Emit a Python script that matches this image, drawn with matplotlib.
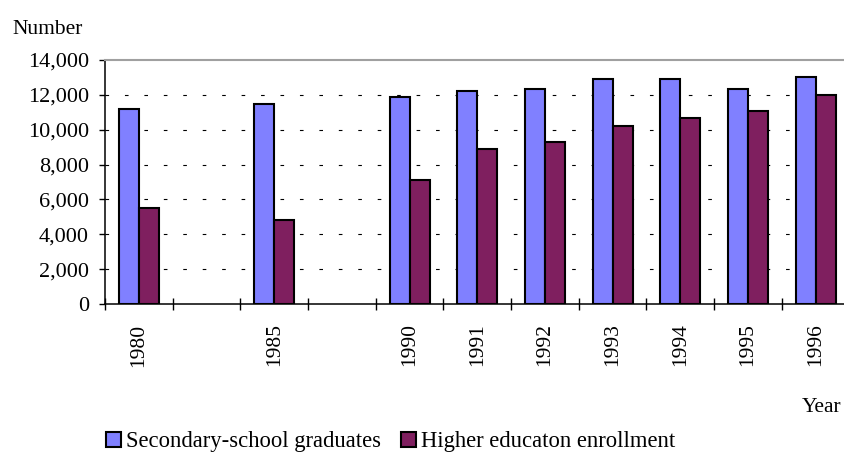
import numpy as np
import matplotlib
matplotlib.use("Agg")
import matplotlib.pyplot as plt
from matplotlib.ticker import FuncFormatter, FixedLocator
from matplotlib.patches import Patch

plt.rcParams['font.family'] = ['Liberation Serif', 'DejaVu Serif']
plt.rcParams['lines.scale_dashes'] = False

# Category slots (blank slots keep the gaps between 1980, 1985 and 1990)
years = ['1980', '', '1985', '', '1990', '1991', '1992', '1993', '1994', '1995', '1996']
secondary_graduates = [11200, np.nan, 11450, np.nan, 11900, 12200, 12350, 12900, 12900, 12350, 13050]
higher_enrollment = [5500, np.nan, 4800, np.nan, 7100, 8900, 9300, 10200, 10700, 11100, 12000]

series_names = ['Secondary-school graduates', 'Higher educaton enrollment']
series_colors = ['#8080FF', '#7F1F5F']

fig = plt.figure(figsize=(8.44, 4.54), dpi=100)
ax = fig.add_axes([105 / 844, 150 / 454, 744.5 / 844, 244 / 454])

x = np.arange(len(years))
bw = 0.295
for offset, vals, color in [(-bw / 2, secondary_graduates, series_colors[0]),
                            (bw / 2, higher_enrollment, series_colors[1])]:
    vals = np.asarray(vals, dtype=float)
    keep = ~np.isnan(vals)
    ax.bar(x[keep] + offset, vals[keep], width=bw, color=color,
           edgecolor='black', linewidth=1.5, zorder=3)

ax.set_xlim(-0.5, len(years) - 0.5)
ax.set_ylim(0, 14000)

# dashed horizontal gridlines
for yv in range(2000, 14000, 2000):
    ax.axhline(yv, color='black', linewidth=0.8, dashes=(2.6, 11.4), zorder=1)

ax.yaxis.set_major_locator(FixedLocator(list(range(0, 14001, 2000))))
ax.yaxis.set_major_formatter(FuncFormatter(lambda v, p: f'{int(v):,}'))
ax.tick_params(axis='y', direction='out', length=4.5, width=1.0, pad=7, labelsize=16)

ax.set_xticks(x)
ax.set_xticklabels(years, rotation=90, fontsize=15.5)
ax.tick_params(axis='x', which='major', length=0, pad=14)
ax.set_xticks(np.arange(-0.5, len(years)), minor=True)
ax.tick_params(axis='x', which='minor', direction='inout', length=9, width=1.0)

for side in ['left', 'bottom']:
    ax.spines[side].set_color('black')
    ax.spines[side].set_linewidth(1.1)
ax.spines['right'].set_visible(False)
ax.spines['top'].set_color('#a0a0a0')
ax.spines['top'].set_linewidth(1.5)

fig.text(12 / 844, 1 - 34 / 454, 'Number', fontsize=15.5, ha='left', va='baseline')
fig.text(841 / 844, 1 - 412 / 454, 'Year', fontsize=15.5, ha='right', va='baseline')

handles = [Patch(facecolor=c, edgecolor='black', linewidth=1.5) for c in series_colors]
fig.legend(handles, series_names, loc='lower left', bbox_to_anchor=(106 / 844, 0.004),
           ncol=2, frameon=False, fontsize=16.3, handlelength=0.66, handleheight=0.66,
           handletextpad=0.23, columnspacing=0.88, borderaxespad=0.0, borderpad=0.0)

fig.savefig('out.png', dpi=100)
